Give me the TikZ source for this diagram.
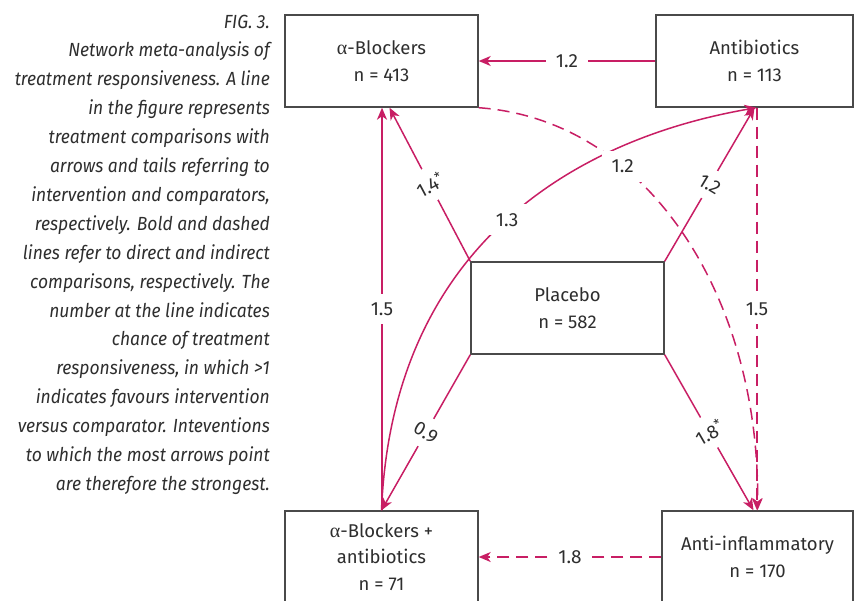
\documentclass[tikz,border=0pt]{standalone}
\usepackage{fontspec}
\setmainfont{Fira Sans}
\newfontfamily\capfont[FakeStretch=0.92]{Fira Sans}
\newfontfamily\grkfont{Liberation Serif}
\usetikzlibrary{arrows.meta}
\definecolor{pk}{HTML}{C81E64}
\definecolor{tx}{HTML}{2E2E2E}
\definecolor{bd}{HTML}{4A4A4A}
\newcommand{\alf}{{\grkfont\fontsize{20}{20}\selectfont α}}
\begin{document}
\begin{tikzpicture}[x=1pt,y=-1pt,
  box/.style={draw=bd, line width=1.4pt, fill=white, text=tx, align=center, inner sep=0pt,
    font=\fontsize{18.5}{26.5}\selectfont},
  con/.style={draw=pk, line width=1.5pt, -{Stealth[length=12pt,width=10pt,inset=3.5pt]}},
  vcon/.style={con, line width=1.8pt},
  dsh/.style={dash pattern=on 12pt off 7pt},
  lbl/.style={fill=white, text=tx, inner xsep=10pt, inner ysep=9pt, font=\fontsize{19}{20}\selectfont},
  captxt/.style={text=tx, align=right, inner sep=0pt, anchor=north east, font=\capfont\itshape\fontsize{19}{28.9}\selectfont}]
\useasboundingbox (0,0) rectangle (854,600);
\clip (0,0) rectangle (854,600);

\node[captxt] (caption) at (270,14.5) {FIG. 3.\\Network meta-analysis of\\treatment responsiveness. A line\\in the figure represents\\treatment comparisons with\\arrows and tails referring to\\intervention and comparators,\\respectively. Bold and dashed\\lines refer to direct and indirect\\comparisons, respectively. The\\number at the line indicates\\chance of treatment\\responsiveness, in which >1\\indicates favours intervention\\versus comparator. Inteventions\\to which the most arrows point\\are therefore the strongest.};

\node[box, minimum width=193pt, minimum height=92pt] (ablk) at (381.5,61) {\alf-Blockers\\n = 413};
\node[box, minimum width=197pt, minimum height=92pt] (antib) at (754.5,61) {Antibiotics\\n = 113};
\node[box, minimum width=193pt, minimum height=92pt] (plac) at (567.5,308) {Placebo\\n = 582};
\node[box, minimum width=193pt, minimum height=92pt] (ablkab) at (381.5,557) {\alf-Blockers +\\antibiotics\\n = 71};
\node[box, minimum width=191pt, minimum height=92pt] (ainf) at (757.5,557) {Anti-inflammatory\\n = 170};

\draw[con] (antib.west) -- node[lbl]{1.2} (ablk.east);
\draw[con,dsh] (ainf.west) -- node[lbl]{1.8} (ablkab.east);
\draw[vcon] ([xshift=0.5pt]ablkab.north) -- node[lbl]{1.5} ([xshift=0.5pt]ablk.south);
\draw[vcon,dsh] ([xshift=-0.5pt]ainf.north |- antib.south) -- node[lbl]{1.5} ([xshift=-0.5pt]ainf.north);

\draw[con] (plac.north west) -- node[lbl,rotate=28]{1.4\textsuperscript{*}} ([xshift=8pt]ablk.south);
\draw[con] (plac.north east) -- node[lbl,rotate=-31]{1.2} (antib.south);
\draw[con] (plac.south west) -- node[lbl,rotate=-30]{0.9} (ablkab.north);
\draw[con] (plac.south east) -- node[lbl,rotate=30]{1.8\textsuperscript{*}} ([xshift=-4pt]ainf.north);

\draw[con] (ablkab.north) .. controls (392,250) and (570,140) .. node[lbl,pos=0.51]{1.3} ([xshift=2pt]antib.south);
\draw[con,dsh] (ablk.south east) .. controls (650,120) and (760,300) .. node[lbl,pos=0.32]{1.2} (ainf.north);
\end{tikzpicture}
\end{document}
